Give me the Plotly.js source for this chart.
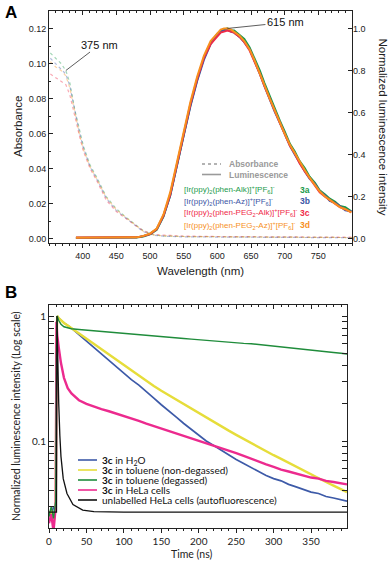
<!DOCTYPE html>
<html>
<head>
<meta charset="utf-8">
<script src="https://cdn.plot.ly/plotly-3.0.1.min.js"></script>
<style>
  html, body { margin: 0; padding: 0; background: #fff; }
  #grafico { width: 390px; height: 562px; }
</style>
</head>
<body>
<div id="grafico"></div>
<script>
// ---- Panel A: absorbance (left axis) and normalized luminescence (right axis)
let absWl = [352, 360, 368, 375, 381, 388, 395, 401, 411, 421, 435, 450, 465, 475, 490, 505, 520, 550, 600, 650, 700, 750, 800];
let abs3a = [0.106, 0.103, 0.1, 0.096, 0.089, 0.074, 0.062, 0.053, 0.042, 0.035, 0.024, 0.017, 0.012, 0.009, 0.0045, 0.0022, 0.0015, 0.0012, 0.001, 0.0009, 0.0008, 0.0007, 0.0006];
let abs3b = [0.103, 0.1, 0.097, 0.094, 0.087, 0.073, 0.061, 0.052, 0.041, 0.034, 0.023, 0.016, 0.0115, 0.0085, 0.004, 0.002, 0.0014, 0.001, 0.0009, 0.0008, 0.0007, 0.0006, 0.0005];
let abs3c = [0.094, 0.092, 0.09, 0.088, 0.082, 0.07, 0.059, 0.05, 0.04, 0.033, 0.022, 0.0155, 0.011, 0.0085, 0.0045, 0.0025, 0.002, 0.0015, 0.0012, 0.001, 0.001, 0.0009, 0.0008];
let abs3d = [0.101, 0.098, 0.096, 0.093, 0.086, 0.072, 0.06, 0.051, 0.041, 0.034, 0.0235, 0.0165, 0.012, 0.009, 0.0042, 0.0021, 0.0016, 0.0012, 0.001, 0.0009, 0.0008, 0.0007, 0.0006];

let lumWl = [390, 420, 450, 480, 490, 500, 510, 520, 530, 540, 550, 560, 570, 580, 590, 600, 605, 610, 615, 620, 625, 633, 640, 648, 655, 663, 670, 678, 685, 693, 700, 708, 715, 722, 730, 737, 745, 752, 760, 767, 775, 782, 790, 799];
let lum3a = [0.004, 0.004, 0.003, 0.005, 0.010, 0.020, 0.042, 0.105, 0.205, 0.345, 0.495, 0.635, 0.755, 0.86, 0.93, 0.975, 0.985, 0.995, 1.0, 0.99, 0.99, 0.97, 0.95, 0.91, 0.86, 0.80, 0.74, 0.675, 0.62, 0.56, 0.51, 0.45, 0.415, 0.37, 0.335, 0.295, 0.265, 0.23, 0.21, 0.19, 0.175, 0.155, 0.15, 0.13];
let lum3b = [0.003, 0.005, 0.004, 0.006, 0.012, 0.023, 0.046, 0.108, 0.205, 0.34, 0.49, 0.63, 0.75, 0.85, 0.925, 0.97, 0.985, 0.99, 0.995, 0.985, 0.98, 0.96, 0.935, 0.9, 0.85, 0.785, 0.725, 0.66, 0.605, 0.55, 0.495, 0.44, 0.4, 0.36, 0.32, 0.285, 0.26, 0.225, 0.205, 0.18, 0.17, 0.155, 0.135, 0.13];
let lum3c = [0.005, 0.005, 0.004, 0.006, 0.012, 0.022, 0.045, 0.11, 0.21, 0.35, 0.5, 0.64, 0.76, 0.86, 0.925, 0.965, 0.98, 0.985, 0.99, 0.985, 0.98, 0.96, 0.935, 0.895, 0.845, 0.785, 0.725, 0.66, 0.61, 0.55, 0.5, 0.44, 0.405, 0.36, 0.32, 0.29, 0.25, 0.22, 0.2, 0.185, 0.165, 0.15, 0.14, 0.125];
let lum3d = [0.004, 0.005, 0.003, 0.006, 0.013, 0.024, 0.048, 0.115, 0.22, 0.36, 0.51, 0.65, 0.77, 0.87, 0.94, 0.98, 0.995, 1.0, 1.0, 0.995, 0.985, 0.965, 0.94, 0.9, 0.85, 0.79, 0.73, 0.665, 0.61, 0.555, 0.5, 0.445, 0.405, 0.365, 0.325, 0.29, 0.255, 0.225, 0.2, 0.185, 0.165, 0.15, 0.14, 0.125];

let compoundNames = [
    '[Ir(ppy)<sub>2</sub>(phen-Alk)]<sup>+</sup>[PF<sub>6</sub>]<sup>-</sup>',
    '[Ir(ppy)<sub>2</sub>(phen-Az)]<sup>+</sup>[PF<sub>6</sub>]<sup>-</sup>',
    '[Ir(ppy)<sub>2</sub>(phen-PEG<sub>2</sub>-Alk)]<sup>+</sup>[PF<sub>6</sub>]<sup>-</sup>',
    '[Ir(ppy)<sub>2</sub>(phen-PEG<sub>2</sub>-Az)]<sup>+</sup>[PF<sub>6</sub>]<sup>-</sup>'
];
let compoundIds = ['3a', '3b', '3c', '3d'];
let xTicksA = [400, 450, 500, 550, 600, 650, 700, 750];
let absTicks = [0, 0.02, 0.04, 0.06, 0.08, 0.10, 0.12];
let lumTicks = [0, 0.2, 0.4, 0.6, 0.8, 1.0];

// ---- Panel B: luminescence decays (log scale)
let tB = [0, 3, 6, 9, 10, 11, 13, 16, 20, 25, 30, 40, 50, 60, 70, 80, 90, 100, 110, 120, 130, 140, 150, 160, 170, 180, 190, 200, 210, 220, 230, 240, 250, 260, 270, 280, 290, 300, 310, 320, 330, 340, 350, 360, 370, 380, 390, 398];
let decayH2O = [0.026, 0.024, 0.03, 0.028, 0.6, 1.0, 0.96, 0.92, 0.88, 0.84, 0.8, 0.71, 0.63, 0.56, 0.5, 0.44, 0.39, 0.35, 0.31, 0.28, 0.25, 0.22, 0.195, 0.175, 0.155, 0.138, 0.124, 0.111, 0.1, 0.092, 0.084, 0.077, 0.071, 0.066, 0.061, 0.057, 0.053, 0.05, 0.048, 0.045, 0.043, 0.041, 0.039, 0.038, 0.036, 0.035, 0.034, 0.033];
let decayTolAir = [0.025, 0.028, 0.022, 0.03, 0.6, 1.0, 0.96, 0.92, 0.88, 0.84, 0.8, 0.72, 0.65, 0.59, 0.535, 0.485, 0.44, 0.4, 0.365, 0.333, 0.3, 0.275, 0.252, 0.232, 0.213, 0.196, 0.181, 0.167, 0.154, 0.142, 0.131, 0.121, 0.112, 0.104, 0.096, 0.089, 0.082, 0.077, 0.072, 0.067, 0.062, 0.058, 0.054, 0.05, 0.047, 0.044, 0.041, 0.039];
let decayTolDeg = [0.025, 0.03, 0.024, 0.033, 0.5, 1.0, 0.92, 0.86, 0.82, 0.8, 0.79, 0.78, 0.77, 0.76, 0.752, 0.745, 0.738, 0.73, 0.72, 0.71, 0.70, 0.69, 0.683, 0.675, 0.668, 0.66, 0.653, 0.645, 0.638, 0.63, 0.623, 0.616, 0.609, 0.604, 0.6, 0.592, 0.583, 0.575, 0.567, 0.559, 0.55, 0.543, 0.535, 0.527, 0.519, 0.511, 0.503, 0.497];
let decayHeLa = [0.022, 0.026, 0.019, 0.03, 0.9, 0.7, 0.56, 0.42, 0.32, 0.265, 0.24, 0.212, 0.198, 0.188, 0.18, 0.173, 0.166, 0.159, 0.152, 0.145, 0.138, 0.132, 0.126, 0.12, 0.115, 0.11, 0.105, 0.1, 0.096, 0.092, 0.088, 0.084, 0.08, 0.076, 0.072, 0.068, 0.065, 0.062, 0.059, 0.057, 0.055, 0.053, 0.051, 0.05, 0.048, 0.047, 0.046, 0.045];
let tAuto = [0, 10, 10.6, 11.5, 13, 14.5, 16, 19, 24, 32, 45, 60, 100, 398];
let decayAuto = [0.027, 0.027, 1.0, 0.5, 0.2, 0.11, 0.075, 0.05, 0.038, 0.031, 0.028, 0.0272, 0.027, 0.027];

let decayNames = [
    '<b>3c</b> in H<sub>2</sub>O',
    '<b>3c</b> in toluene (non-degassed)',
    '<b>3c</b> in toluene (degassed)',
    '<b>3c</b> in HeLa cells',
    'unlabelled HeLa cells (autofluorescence)'
];
let xTicksB = [0, 50, 100, 150, 200, 250, 300, 350];

// ---- styles
let colA = ['#1b9a4b', '#3b55a5', '#ef2b47', '#f7901e'];
let colB = ['#3d5aa8', '#e6dd3a', '#1f8c3b', '#ec2a8e', '#111111'];
let fontA = 'Liberation Sans, Arial, sans-serif';
let fontB = 'Lato, Open Sans, sans-serif';
let ink = '#222';

function px(x) { return x / 390; }
function py(y) { return 1 - y / 562; }

// text placed in pixel coordinates of the figure
function label(text, x, y, font, extra) {
    return Object.assign({
        text: text, x: px(x), y: py(y), xref: 'paper', yref: 'paper',
        xanchor: 'center', yanchor: 'middle', showarrow: false, font: font
    }, extra || {});
}

let absSeries = [abs3a, abs3b, abs3c, abs3d];
let lumSeries = [lum3a, lum3b, lum3c, lum3d];
let traces = [];

absSeries.forEach((s, i) => {
    traces.push({
        x: absWl, y: s, xaxis: 'x', yaxis: 'y', mode: 'lines',
        line: { color: colA[i], dash: 'dot', width: 1.2 }, opacity: 0.4,
        hoverinfo: 'skip'
    });
});
lumSeries.forEach((s, i) => {
    traces.push({
        x: lumWl, y: s, xaxis: 'x', yaxis: 'y2', mode: 'lines',
        line: { color: colA[i], width: 2 }, hoverinfo: 'skip'
    });
});

let decaySeries = [decayH2O, decayTolAir, decayHeLa, decayTolDeg];
let decayCols = [colB[0], colB[1], colB[3], colB[2]];
let decayWidths = [1.7, 2.4, 2.4, 1.4];
decaySeries.forEach((s, i) => {
    traces.push({
        x: tB, y: s, xaxis: 'x2', yaxis: 'y3', mode: 'lines',
        line: { color: decayCols[i], width: decayWidths[i] }, hoverinfo: 'skip'
    });
});
traces.push({
    x: tAuto, y: decayAuto, xaxis: 'x2', yaxis: 'y3', mode: 'lines',
    line: { color: colB[4], width: 1.3 }, hoverinfo: 'skip'
});
// empty traces so the top tick axes exist
traces.push({ x: [], y: [], xaxis: 'x3', yaxis: 'y' });
traces.push({ x: [], y: [], xaxis: 'x4', yaxis: 'y3' });

let peakIdx = lumWl.indexOf(615);

let baseAxis = {
    showgrid: false, zeroline: false, showline: true, linecolor: ink, linewidth: 1,
    tickcolor: ink, ticklen: 4, tickwidth: 1
};

let fTitleA = { family: fontA, size: 11.5, color: ink };
let fTitleB = { family: fontB, size: 10.5, color: ink };
let fPanel = { family: fontA, size: 17, color: '#000' };
let fKey = { family: fontA, size: 8.5, color: '#9a9a9a' };

let annotations = [
    label('<b>A</b>', 3, 12.5, fPanel, { xanchor: 'left' }),
    label('<b>B</b>', 3, 292.5, fPanel, { xanchor: 'left' }),
    label('Absorbance', 18, 127, fTitleA, { textangle: -90 }),
    label('Normalized luminescence intensity', 382.5, 127, fTitleA, { textangle: 90 }),
    label('Wavelength (nm)', 201, 271, fTitleA),
    label('Normalized luminescence intensity (Log scale)', 16, 416, fTitleB, { textangle: -90 }),
    label('Time (ns)', 191, 554, fTitleB),
    // callouts
    { text: '375 nm', x: absWl[3], y: abs3a[3], xref: 'x', yref: 'y', showarrow: true, arrowhead: 0, arrowwidth: 0.8, arrowcolor: '#333', ax: 34, ay: -26, font: { family: fontA, size: 11, color: '#111' } },
    { text: '615 nm', x: lumWl[peakIdx], y: lum3d[peakIdx], xref: 'x', yref: 'y2', showarrow: true, arrowhead: 0, arrowwidth: 0.8, arrowcolor: '#333', ax: 58, ay: -6, font: { family: fontA, size: 11, color: '#111' } },
    // panel A key
    label('<b>Absorbance</b>', 227, 164, fKey, { xanchor: 'left' }),
    label('<b>Luminescence</b>', 227, 174.5, fKey, { xanchor: 'left' })
];
let rowsA = [189.5, 201, 213, 225];
compoundNames.forEach((name, i) => {
    annotations.push(label(name, 182, rowsA[i], { family: fontA, size: 8, color: colA[i] }, { xanchor: 'left' }));
    annotations.push(label('<b>' + compoundIds[i] + '</b>', 298, rowsA[i], { family: fontA, size: 8.5, color: colA[i] }, { xanchor: 'left' }));
});

let shapes = [
    { type: 'line', xref: 'paper', yref: 'paper', x0: px(202), x1: px(221), y0: py(164), y1: py(164), line: { color: '#9a9a9a', width: 1.3, dash: 'dot' } },
    { type: 'line', xref: 'paper', yref: 'paper', x0: px(202), x1: px(221), y0: py(174.5), y1: py(174.5), line: { color: '#9a9a9a', width: 1.6 } }
];
let rowsB = [460, 470, 480, 490, 500];
decayNames.forEach((name, i) => {
    shapes.push({ type: 'line', xref: 'paper', yref: 'paper', x0: px(78), x1: px(97), y0: py(rowsB[i]), y1: py(rowsB[i]), line: { color: colB[i], width: 1.6 } });
    annotations.push(label(name, 99.5, rowsB[i], { family: fontB, size: 10, color: '#111' }, { xanchor: 'left' }));
});

let layout = {
    width: 390, height: 562,
    margin: { l: 0, r: 0, t: 0, b: 0 },
    showlegend: false,
    paper_bgcolor: '#fff', plot_bgcolor: 'rgba(0,0,0,0)',
    font: { family: fontA, size: 9, color: ink },
    xaxis: Object.assign({}, baseAxis, {
        domain: [px(49), px(352)], anchor: 'y', range: [350, 800],
        tickmode: 'array', tickvals: xTicksA, ticks: 'outside', mirror: true,
        minor: { dtick: 10, tick0: 350, ticks: 'outside', ticklen: 2, tickcolor: ink },
        tickfont: { family: fontA, size: 9, color: ink }
    }),
    xaxis3: Object.assign({}, baseAxis, {
        overlaying: 'x', side: 'top', anchor: 'y', range: [350, 800], showline: false,
        tickmode: 'array', tickvals: xTicksA, ticks: 'inside', showticklabels: false,
        minor: { dtick: 10, tick0: 350, ticks: 'inside', ticklen: 2, tickcolor: ink }
    }),
    yaxis: Object.assign({}, baseAxis, {
        domain: [py(243), py(11)], anchor: 'x', range: [-0.0025, 0.13],
        tickmode: 'array', tickvals: absTicks, tickformat: '.2f', ticks: 'inside', mirror: true,
        minor: { dtick: 0.01, tick0: 0, ticks: 'inside', ticklen: 2, tickcolor: ink },
        tickfont: { family: fontA, size: 9, color: ink }
    }),
    yaxis2: Object.assign({}, baseAxis, {
        overlaying: 'y', side: 'right', anchor: 'x', range: [-0.0208, 1.083], showline: false,
        tickmode: 'array', tickvals: lumTicks, tickformat: '.1f', ticks: 'inside',
        tickfont: { family: fontA, size: 9, color: ink }
    }),
    xaxis2: Object.assign({}, baseAxis, {
        domain: [px(49), px(347)], anchor: 'y3', range: [0, 398],
        tickmode: 'array', tickvals: xTicksB, ticks: 'outside', mirror: true,
        minor: { dtick: 10, tick0: 0, ticks: 'outside', ticklen: 2, tickcolor: ink },
        tickfont: { family: fontB, size: 10, color: ink }
    }),
    xaxis4: Object.assign({}, baseAxis, {
        overlaying: 'x2', side: 'top', anchor: 'y3', range: [0, 398], showline: false,
        tickmode: 'array', tickvals: xTicksB, ticks: 'inside', showticklabels: false,
        minor: { dtick: 10, tick0: 0, ticks: 'inside', ticklen: 2, tickcolor: ink }
    }),
    yaxis3: Object.assign({}, baseAxis, {
        domain: [py(528), py(305)], anchor: 'x2', type: 'log', range: [-1.696, 0.088],
        tickmode: 'array', tickvals: [0.1, 1], ticktext: ['0.1', '1'], ticks: 'inside', ticklen: 5,
        mirror: 'allticks',
        minor: { tickmode: 'array', tickvals: [0.03, 0.04, 0.05, 0.06, 0.07, 0.08, 0.09, 0.2, 0.3, 0.4, 0.5, 0.6, 0.7, 0.8, 0.9], ticks: 'inside', ticklen: 3, tickcolor: ink },
        tickfont: { family: fontB, size: 10, color: ink }
    }),
    annotations: annotations,
    shapes: shapes
};

Plotly.newPlot('grafico', traces, layout, { staticPlot: true });
</script>
</body>
</html>
